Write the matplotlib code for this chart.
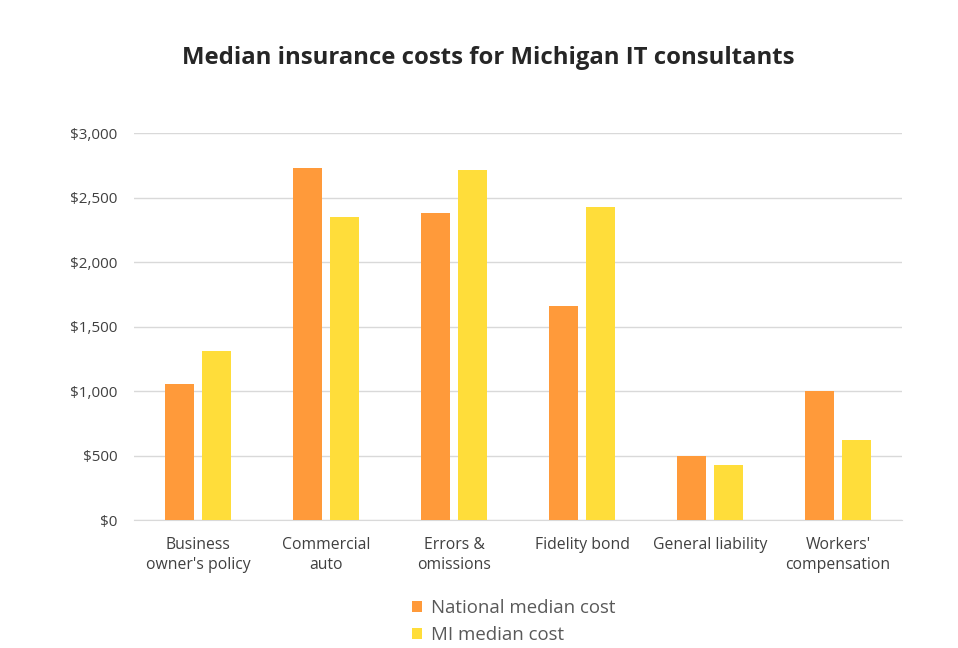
import matplotlib.pyplot as plt
import numpy as np

categories = ["Business\nowner's policy", "Commercial\nauto", "Errors &\nomissions",
              "Fidelity bond", "General liability", "Workers'\ncompensation"]
national = [1055, 2730, 2380, 1660, 495, 1000]
michigan = [1310, 2350, 2710, 2430, 425, 620]
yticks = [0, 500, 1000, 1500, 2000, 2500, 3000]
ytick_labels = ["$0", "$500", "$1,000", "$1,500", "$2,000", "$2,500", "$3,000"]

plt.rcParams['font.family'] = ['Open Sans', 'DejaVu Sans']

fig = plt.figure(figsize=(9.58, 6.48), dpi=100)
ax = fig.add_axes([0.140, 0.1975, 0.8015, 0.5972])

x = np.arange(len(categories))
w = 0.226
off = 0.144
ax.bar(x - off, national, w, color='#FF9A3A', label='National median cost', zorder=3)
ax.bar(x + off, michigan, w, color='#FFDD3A', label='MI median cost', zorder=3)

ax.set_xlim(-0.5, len(categories) - 0.5)
ax.set_ylim(0, 3000)
ax.set_yticks(yticks)
ax.set_yticklabels(ytick_labels)
ax.set_xticks(x)
ax.set_xticklabels(categories, fontsize=11.3, linespacing=1.35)
ax.grid(axis='y', color='#D9D9D9', linewidth=1, zorder=0)
for s in ['top', 'right', 'left']:
    ax.spines[s].set_visible(False)
ax.spines['bottom'].set_color('#D9D9D9')
ax.tick_params(axis='both', length=0, labelcolor='#404040')
ax.tick_params(axis='y', labelsize=11, pad=12)
ax.tick_params(axis='x', pad=12)

fig.text(0.51, 0.911, "Median insurance costs for Michigan IT consultants",
         ha='center', va='center', fontsize=17.2, fontweight='bold', color='#262626')

fig.legend(loc='center', bbox_to_anchor=(0.536, 0.041), ncol=1, frameon=False,
           fontsize=13.4, labelcolor='#595959', handlelength=0.55, handleheight=0.55,
           handletextpad=0.45, labelspacing=0.5)

fig.savefig('out.png', dpi=100)
